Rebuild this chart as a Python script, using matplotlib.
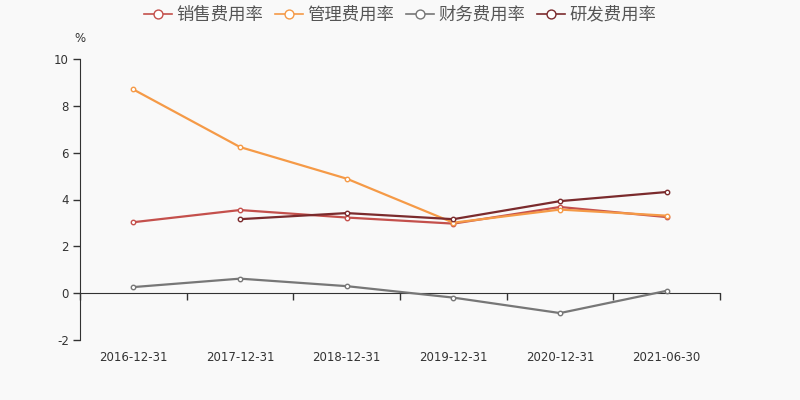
import numpy as np
import matplotlib.pyplot as plt

plt.rcParams['font.family'] = ['DejaVu Sans', 'Noto Sans CJK SC']
plt.rcParams['axes.unicode_minus'] = False

dates = ['2016-12-31', '2017-12-31', '2018-12-31', '2019-12-31', '2020-12-31', '2021-06-30']
sales_rate = [3.03, 3.55, 3.23, 2.97, 3.68, 3.25]
admin_rate = [8.70, 6.24, 4.89, 3.01, 3.57, 3.31]
finance_rate = [0.26, 0.62, 0.30, -0.19, -0.85, 0.10]
rd_rate = [np.nan, 3.16, 3.42, 3.16, 3.93, 4.32]

series = [
    ('销售费用率', sales_rate, '#c4504c'),
    ('管理费用率', admin_rate, '#f59a47'),
    ('财务费用率', finance_rate, '#777777'),
    ('研发费用率', rd_rate, '#7b2b2d'),
]

bg = '#f9f9f9'
fig = plt.figure(figsize=(8, 4), dpi=100, facecolor=bg)
ax = fig.add_axes([0.1, 0.15, 0.8, 0.7025], facecolor=bg)

x = np.arange(len(dates))
for name, vals, color in series:
    ax.plot(x, vals, color=color, lw=1.6, marker='o', ms=3.2,
            mfc='white', mec=color, mew=1, label=name)

ax.set_xlim(-0.5, len(dates) - 0.5)
ax.set_ylim(-2, 10)
ax.set_yticks(range(-2, 11, 2))
ax.tick_params(axis='y', length=5, width=1, color='#333333', labelsize=8.5,
               labelcolor='#333333', pad=3)
ax.set_xticks(x)
ax.set_xticklabels(dates)
ax.tick_params(axis='x', length=0, labelsize=8.5, labelcolor='#333333', pad=8)
for s in ['top', 'right', 'bottom']:
    ax.spines[s].set_visible(False)
ax.spines['left'].set_color('#333333')

# category axis line drawn at y = 0 with ticks between categories
sec = ax.secondary_xaxis(2 / 12)
sec.set_xticks(np.arange(-0.5, len(dates), 1.0))
sec.set_xticklabels([])
sec.tick_params(length=5, width=1, color='#333333')
sec.spines['bottom'].set_color('#333333')

ax.text(0, 1.05, '%', transform=ax.transAxes, ha='center', va='bottom',
        fontsize=8.5, color='#333333')

leg = fig.legend(loc='upper center', bbox_to_anchor=(0.5, 1.025), ncol=4,
                 frameon=False, fontsize=12.5, markerscale=2.0, handlelength=1.6,
                 handletextpad=0.25, columnspacing=0.7)
for line in leg.get_lines():
    line.set_linewidth(1.2)
for t in leg.get_texts():
    t.set_color('#555555')

fig.savefig('out.png', dpi=100, facecolor=bg)
